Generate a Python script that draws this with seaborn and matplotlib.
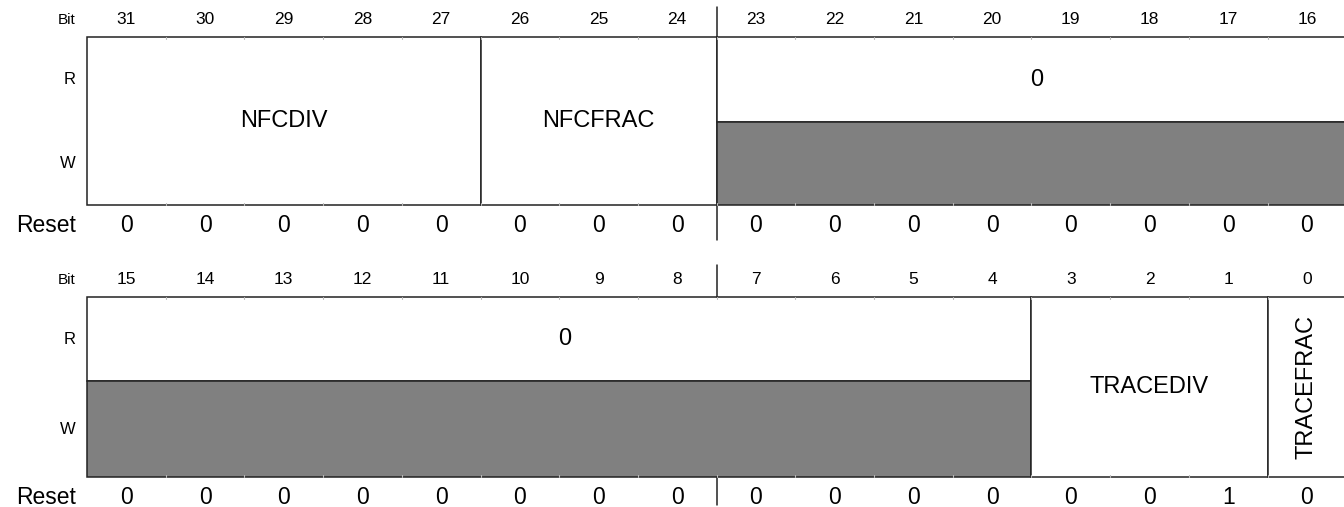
import matplotlib
matplotlib.use("Agg")
import matplotlib.pyplot as plt
import seaborn as sns

# register contents (high half first, then low half)
bits_hi = [31, 30, 29, 28, 27, 26, 25, 24, 23, 22, 21, 20, 19, 18, 17, 16]
bits_lo = [15, 14, 13, 12, 11, 10, 9, 8, 7, 6, 5, 4, 3, 2, 1, 0]

field_names_hi = ["NFCDIV", "NFCFRAC", "0"]
field_msb_hi = [31, 26, 23]
field_lsb_hi = [27, 24, 16]
field_reserved_hi = [False, False, True]

field_names_lo = ["0", "TRACEDIV", "TRACEFRAC"]
field_msb_lo = [15, 3, 0]
field_lsb_lo = [4, 1, 0]
field_reserved_lo = [True, False, False]

reset_hi = [0, 0, 0, 0, 0, 0, 0, 0, 0, 0, 0, 0, 0, 0, 0, 0]
reset_lo = [0, 0, 0, 0, 0, 0, 0, 0, 0, 0, 0, 0, 0, 0, 1, 0]

row_labels = ["R", "W"]

sns.set_theme(style="white")
plt.rcParams["font.family"] = ["Liberation Sans", "DejaVu Sans"]
plt.rcParams["text.color"] = "black"

LINE = "#222222"
GRAY = "#808080"
CELL = 78.7     # px per bit
LEFT = 87       # px of box left edge

fig = plt.figure(figsize=(13.44, 5.07), dpi=100)
ax = fig.add_axes([0, 0, 1, 1])
ax.set_xlim(-LEFT / CELL, (1344 - LEFT) / CELL)
ax.set_ylim(507, 0)
ax.axis("off")

# y layout for each half: bit row, box top, R/W split, box bottom, reset row, divider span
layouts = [
    dict(bit_y=20, top=37, split=122, bottom=205, reset_y=225, div=(7, 240)),
    dict(bit_y=280, top=297, split=381, bottom=477, reset_y=497, div=(265, 505)),
]

halves = [
    (bits_hi, field_names_hi, field_msb_hi, field_lsb_hi, field_reserved_hi, reset_hi),
    (bits_lo, field_names_lo, field_msb_lo, field_lsb_lo, field_reserved_lo, reset_lo),
]

label_x = -11 / CELL  # right edge of left-side labels

for (bits, names, msbs, lsbs, reserved, reset), lay in zip(halves, layouts):
    top, split, bottom = lay["top"], lay["split"], lay["bottom"]

    # bit numbers and reset values
    ax.text(label_x, lay["bit_y"], "Bit", ha="right", va="center", fontsize=11)
    ax.text(label_x, lay["reset_y"] + 1, "Reset", ha="right", va="center", fontsize=16.5)
    for col, (b, r) in enumerate(zip(bits, reset)):
        ax.text(col + 0.5, lay["bit_y"], str(b), ha="center", va="center", fontsize=12.5)
        ax.text(col + 0.5, lay["reset_y"] + 1, str(r), ha="center", va="center", fontsize=16.5)

    # R / W row labels
    ax.text(label_x, (top + split) / 2, row_labels[0], ha="right", va="center", fontsize=12)
    ax.text(label_x, (split + bottom) / 2, row_labels[1], ha="right", va="center", fontsize=12)

    # byte divider outside the box
    ax.plot([8, 8], [lay["div"][0], top], color=LINE, lw=1.1)
    ax.plot([8, 8], [bottom, lay["div"][1]], color=LINE, lw=1.1)

    # small tick marks at bit boundaries
    for col in range(1, 16):
        ax.plot([col, col], [top, top + 2], color="#bbbbbb", lw=0.8)
        ax.plot([col, col], [bottom - 2, bottom], color="#bbbbbb", lw=0.8)

    for name, msb, lsb, res in zip(names, msbs, lsbs, reserved):
        c0 = bits.index(msb)
        width = msb - lsb + 1
        cx = c0 + width / 2
        if res:
            ax.bar(c0, split - top, width=width, bottom=top, align="edge",
                   facecolor="white", edgecolor=LINE, linewidth=1.1)
            ax.bar(c0, bottom - split, width=width, bottom=split, align="edge",
                   facecolor=GRAY, edgecolor=LINE, linewidth=1.1)
            ax.text(cx + 0.07, (top + split) / 2, name, ha="center", va="center", fontsize=17)
        else:
            ax.bar(c0, bottom - top, width=width, bottom=top, align="edge",
                   facecolor="white", edgecolor=LINE, linewidth=1.1)
            rot = 90 if width == 1 else 0
            ax.text(cx, (top + bottom) / 2, name, ha="center", va="center",
                    fontsize=17, rotation=rot)

fig.savefig("out.png", dpi=100)
plt.close(fig)
